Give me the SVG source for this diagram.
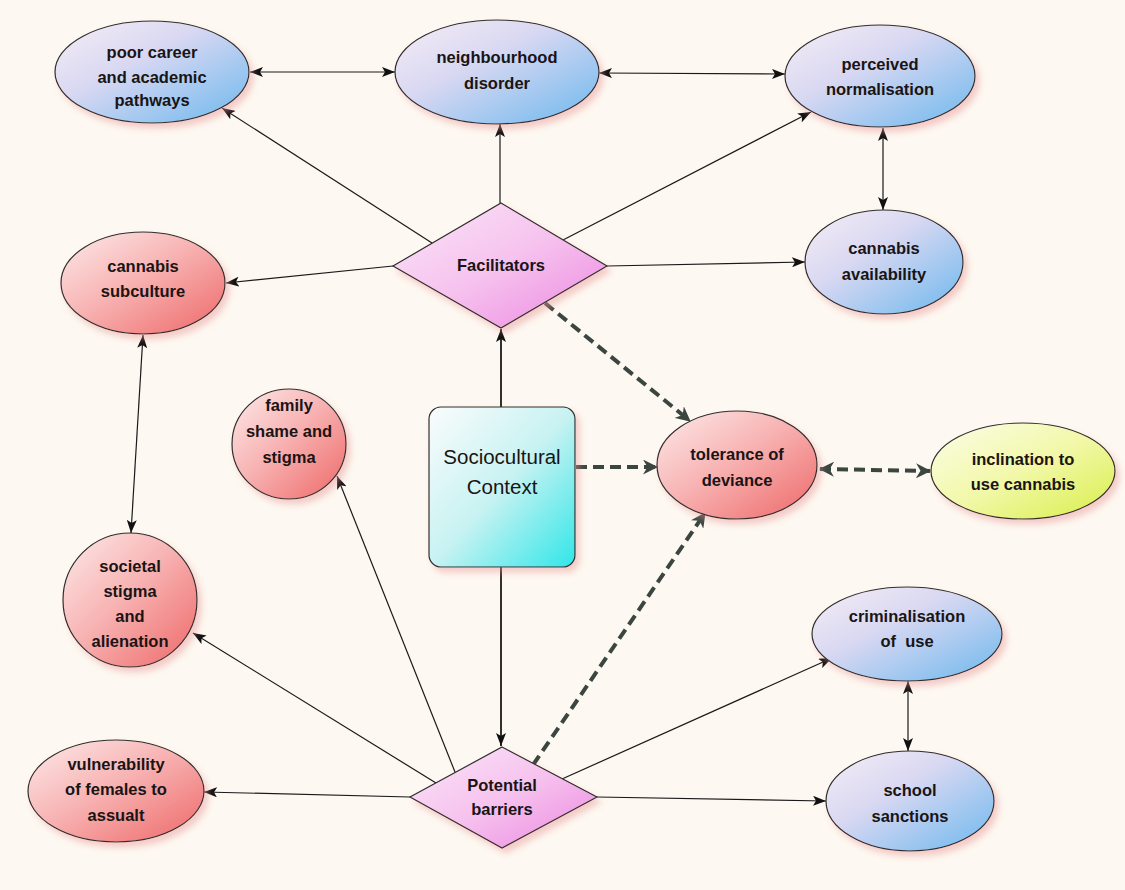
<svg xmlns="http://www.w3.org/2000/svg" width="1125" height="890" viewBox="0 0 1125 890">
<defs>
<linearGradient id="gBlue" x1="0" y1="0" x2="1" y2="1"><stop offset="0" stop-color="#f6eef6"/><stop offset="0.4" stop-color="#d9d8f2"/><stop offset="1" stop-color="#6cb8ee"/></linearGradient>
<linearGradient id="gRed" x1="0" y1="0" x2="1" y2="1"><stop offset="0" stop-color="#fdeaea"/><stop offset="0.45" stop-color="#f8b4b4"/><stop offset="1" stop-color="#ee6868"/></linearGradient>
<linearGradient id="gPink" x1="0" y1="0" x2="1" y2="1"><stop offset="0" stop-color="#fbe6f8"/><stop offset="0.5" stop-color="#f6c2ee"/><stop offset="1" stop-color="#ec86e0"/></linearGradient>
<linearGradient id="gYellow" x1="0" y1="0" x2="1" y2="1"><stop offset="0" stop-color="#fbfde8"/><stop offset="0.5" stop-color="#f2f8a8"/><stop offset="1" stop-color="#d8ee48"/></linearGradient>
<linearGradient id="gCyan" x1="0" y1="0" x2="1" y2="1"><stop offset="0" stop-color="#fafcfc"/><stop offset="0.5" stop-color="#c8f2f2"/><stop offset="1" stop-color="#30e6e8"/></linearGradient>
<filter id="sh" x="-20%" y="-20%" width="150%" height="150%"><feDropShadow dx="4" dy="5" stdDeviation="3" flood-color="#e89494" flood-opacity="0.45"/></filter>
<marker id="ar" viewBox="0 0 13 10" refX="13" refY="5" markerWidth="13" markerHeight="10" markerUnits="userSpaceOnUse" orient="auto-start-reverse"><path d="M0,0 L13,5 L0,10 L3,5 z" fill="#111"/></marker>
<marker id="ard" viewBox="0 0 15 15" refX="14" refY="7.5" markerWidth="15" markerHeight="15" markerUnits="userSpaceOnUse" orient="auto-start-reverse"><path d="M0,0 L15,7.5 L0,15 L4.5,7.5 z" fill="#3b4641"/></marker>
<style>
.n{stroke:#2e2e2e;stroke-width:1.2;filter:url(#sh)}
.b{fill:url(#gBlue)}.r{fill:url(#gRed)}.p{fill:url(#gPink)}.y{fill:url(#gYellow)}.c{fill:url(#gCyan)}
text{font-family:"Liberation Sans",Arial,sans-serif;font-weight:bold;font-size:16.5px;fill:#1a1414;text-anchor:middle}
.big{font-weight:normal;font-size:20.5px}
.l{stroke:#1a1a1a;stroke-width:1.2;fill:none;marker-end:url(#ar)}
.dbl{marker-start:url(#ar)}
.d{stroke:#3b4641;stroke-width:4;stroke-dasharray:11 6;fill:none;marker-end:url(#ard)}
.dd{marker-start:url(#ard)}
</style>
</defs>
<rect width="1125" height="890" fill="#fdf8f1"/>

<g id="connectors">
<line class="l dbl" x1="250" y1="72" x2="395" y2="72"/>
<line class="l dbl" x1="599" y1="73" x2="785" y2="74"/>
<line class="l dbl" x1="883" y1="128" x2="883" y2="210"/>
<line class="l" x1="432" y1="243" x2="222" y2="108"/>
<line class="l" x1="500" y1="203" x2="500" y2="124"/>
<line class="l" x1="563" y1="240" x2="811" y2="112"/>
<line class="l" x1="393" y1="266" x2="226" y2="283"/>
<line class="l" x1="607" y1="266" x2="805" y2="262"/>
<line class="l" x1="501" y1="407" x2="501" y2="329" style="stroke-width:1.8"/>
<line class="l" x1="501" y1="567" x2="501" y2="746" style="stroke-width:1.8"/>
<line class="l dbl" x1="143" y1="335" x2="131" y2="533"/>
<line class="l dbl" x1="908" y1="681" x2="908" y2="751"/>
<line class="l" x1="455" y1="772" x2="337" y2="476"/>
<line class="l" x1="436" y1="783" x2="193" y2="633"/>
<line class="l" x1="410" y1="797" x2="204" y2="792"/>
<line class="l" x1="562" y1="779" x2="832" y2="658"/>
<line class="l" x1="597" y1="797" x2="826" y2="801"/>
<line class="d" x1="576" y1="467" x2="657" y2="467"/>
<line class="d" x1="545" y1="303" x2="690" y2="421"/>
<line class="d" x1="533" y1="765" x2="705" y2="513"/>
<line class="d dd" x1="820" y1="469" x2="930" y2="471"/>
</g>

<g id="poor-career">
<ellipse class="n b" cx="152" cy="72" rx="97" ry="51"/>
<text x="152" y="58">poor career</text><text x="152" y="83">and academic</text><text x="152" y="106">pathways</text>
</g>
<g id="neighbourhood-disorder">
<ellipse class="n b" cx="497" cy="72" rx="102" ry="52"/>
<text x="497" y="63">neighbourhood</text><text x="497" y="89">disorder</text>
</g>
<g id="perceived-normalisation">
<ellipse class="n b" cx="880" cy="76" rx="95" ry="51"/>
<text x="880" y="70">perceived</text><text x="880" y="95">normalisation</text>
</g>
<g id="cannabis-availability">
<ellipse class="n b" cx="884" cy="262" rx="79" ry="52"/>
<text x="884" y="254">cannabis</text><text x="884" y="280">availability</text>
</g>
<g id="cannabis-subculture">
<ellipse class="n r" cx="143" cy="283" rx="82" ry="51"/>
<text x="143" y="272">cannabis</text><text x="143" y="297">subculture</text>
</g>
<g id="facilitators">
<polygon class="n p" points="501,203 607,266 501,328 393,266"/>
<text x="501" y="271">Facilitators</text>
</g>
<g id="sociocultural-context">
<rect class="n c" x="429" y="407" width="146" height="160" rx="12"/>
<text class="big" x="502" y="464">Sociocultural</text><text class="big" x="502" y="494">Context</text>
</g>
<g id="tolerance-of-deviance">
<ellipse class="n r" cx="737" cy="465" rx="80" ry="54"/>
<text x="737" y="460">tolerance of</text><text x="737" y="486">deviance</text>
</g>
<g id="inclination-to-use-cannabis">
<ellipse class="n y" cx="1023" cy="471" rx="92" ry="48"/>
<text x="1023" y="465">inclination to</text><text x="1023" y="490">use cannabis</text>
</g>
<g id="family-shame">
<ellipse class="n r" cx="289" cy="444" rx="57" ry="55"/>
<text x="289" y="411">family</text><text x="289" y="437">shame and</text><text x="289" y="463">stigma</text>
</g>
<g id="societal-stigma">
<ellipse class="n r" cx="130" cy="600" rx="67" ry="67"/>
<text x="130" y="572">societal</text><text x="130" y="597">stigma</text><text x="130" y="622">and</text><text x="130" y="647">alienation</text>
</g>
<g id="criminalisation">
<ellipse class="n b" cx="907" cy="634" rx="95" ry="47"/>
<text x="907" y="622">criminalisation</text><text x="907" y="647" xml:space="preserve">of  use</text>
</g>
<g id="school-sanctions">
<ellipse class="n b" cx="910" cy="801" rx="84" ry="50"/>
<text x="910" y="796">school</text><text x="910" y="822">sanctions</text>
</g>
<g id="vulnerability">
<ellipse class="n r" cx="116" cy="791" rx="88" ry="51"/>
<text x="116" y="770">vulnerability</text><text x="116" y="795">of females to</text><text x="116" y="821">assualt</text>
</g>
<g id="potential-barriers">
<polygon class="n p" points="502,747 597,797 502,848 410,797"/>
<text x="502" y="791">Potential</text><text x="502" y="815">barriers</text>
</g>
</svg>
